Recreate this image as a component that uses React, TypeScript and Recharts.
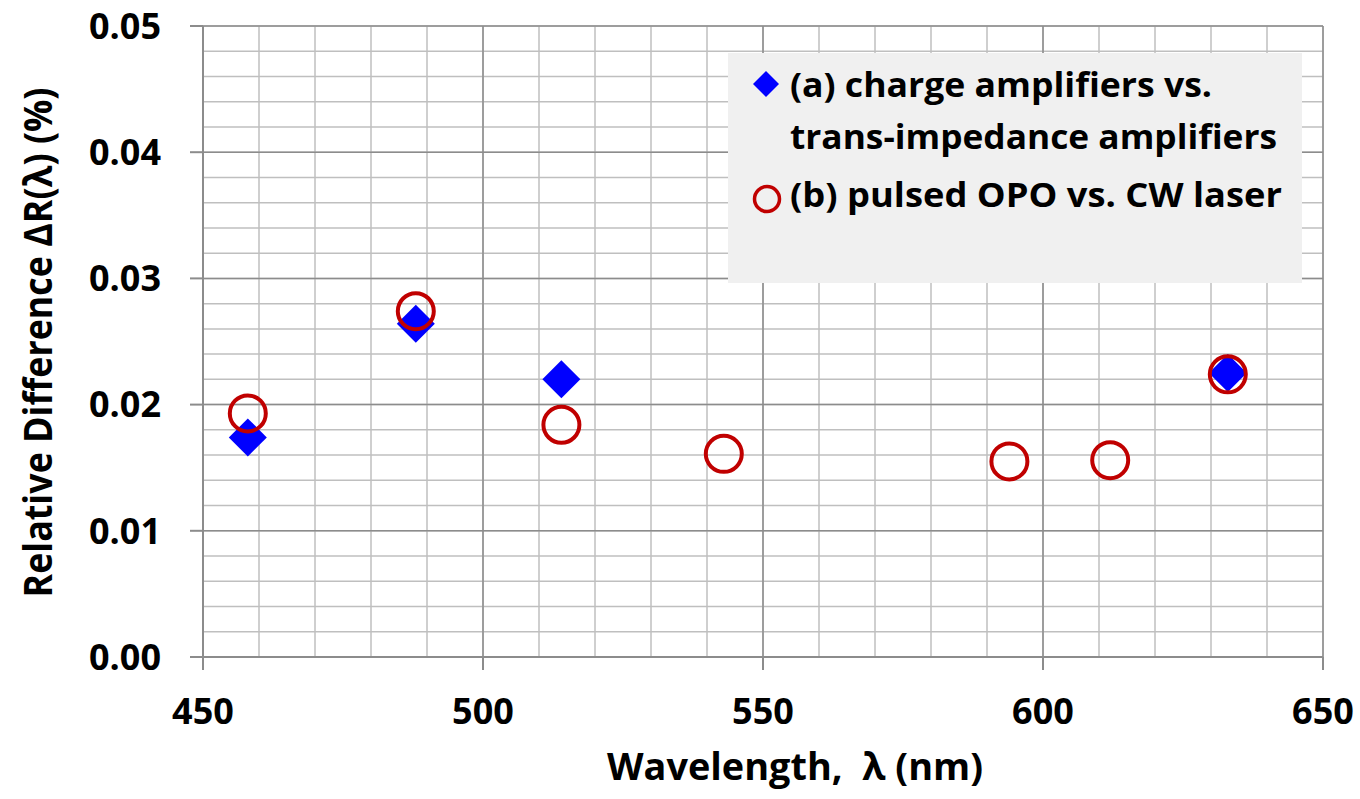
import { ScatterChart, Scatter, XAxis, YAxis, CartesianGrid } from "recharts";

// wavelength (nm) and relative difference (%)
const seriesAX = [458, 488, 514, 633];
const seriesAY = [0.0174, 0.0264, 0.022, 0.0225];
const seriesBX = [458, 488, 514, 543, 594, 612, 633];
const seriesBY = [0.0193, 0.0274, 0.0184, 0.0161, 0.0155, 0.0156, 0.0224];

const xTicks = [450, 500, 550, 600, 650];
const yTicks = [0, 0.01, 0.02, 0.03, 0.04, 0.05];
const xMinor = [450, 460, 470, 480, 490, 500, 510, 520, 530, 540, 550, 560, 570, 580, 590, 600, 610, 620, 630, 640, 650];
const yMinor = [0, 0.002, 0.004, 0.006, 0.008, 0.01, 0.012, 0.014, 0.016, 0.018, 0.02, 0.022, 0.024, 0.026, 0.028, 0.03, 0.032, 0.034, 0.036, 0.038, 0.04, 0.042, 0.044, 0.046, 0.048, 0.05];

const seriesNames = ["(a) charge amplifiers vs.", "trans-impedance amplifiers", "(b) pulsed OPO vs. CW laser"];

const dataA = seriesAX.map((x, i) => ({ x, y: seriesAY[i] }));
const dataB = seriesBX.map((x, i) => ({ x, y: seriesBY[i] }));

const X_DOMAIN = [450, 650];
const Y_DOMAIN = [0, 0.05];

const FONT = "'Open Sans', 'DejaVu Sans', sans-serif";
const AXIS = "#8C8C8C";
const BLUE = "#0000FF";
const RED = "#C00000";

const Diamond = (props: any) => {
  const { cx, cy } = props;
  const h = 19;
  return (
    <polygon
      points={`${cx},${cy - h} ${cx + h},${cy} ${cx},${cy + h} ${cx - h},${cy}`}
      fill={BLUE}
    />
  );
};

const Ring = (props: any) => {
  const { cx, cy } = props;
  return <circle cx={cx} cy={cy} r={18} fill="none" stroke={RED} strokeWidth={4} />;
};

// minor grid positions through the axis scales
const minorVertical = (p: any) => {
  const s = p.xAxis && p.xAxis.scale;
  if (typeof s === "function") return xMinor.map((v) => s(v));
  const o = p.offset;
  return xMinor.map((v) => o.left + ((v - X_DOMAIN[0]) / (X_DOMAIN[1] - X_DOMAIN[0])) * o.width);
};
const minorHorizontal = (p: any) => {
  const s = p.yAxis && p.yAxis.scale;
  if (typeof s === "function") return yMinor.map((v) => s(v));
  const o = p.offset;
  return yMinor.map((v) => o.top + o.height - ((v - Y_DOMAIN[0]) / (Y_DOMAIN[1] - Y_DOMAIN[0])) * o.height);
};

const YTitle = (props: any) => {
  const vb = props.viewBox;
  const x = 52;
  const y = vb.y + vb.height / 2 + 1;
  return (
    <text
      x={x}
      y={y}
      transform={`rotate(-90 ${x} ${y})`}
      textAnchor="middle"
      fontFamily={FONT}
      fontWeight={700}
      fontSize={40}
      textLength={510}
      lengthAdjust="spacingAndGlyphs"
      fill="#000"
    >
      Relative Difference ΔR(λ) (%)
    </text>
  );
};

const XTitle = (props: any) => {
  const vb = props.viewBox;
  return (
    <text
      x={vb.x + vb.width / 2 + 32}
      y={vb.y + 123}
      textAnchor="middle"
      fontFamily={FONT}
      fontWeight={700}
      fontSize={38}
      textLength={376}
      lengthAdjust="spacingAndGlyphs"
      fill="#000"
      style={{ whiteSpace: "pre" }}
    >
      {"Wavelength,  λ (nm)"}
    </text>
  );
};

function LegendBox() {
  const txt = {
    fontFamily: FONT,
    fontWeight: 700,
    fontSize: 34,
    fill: "#000",
    lengthAdjust: "spacingAndGlyphs",
  } as any;
  return (
    <div
      style={{
        position: "absolute",
        left: 728,
        top: 53,
        width: 574,
        height: 230,
        background: "#F0F0F0",
      }}
    >
      <svg width={574} height={230}>
        <polygon points="38,18 51,31 38,44 25,31" fill={BLUE} />
        <text x={62} y={44} textLength={422} {...txt}>
          {seriesNames[0]}
        </text>
        <text x={62} y={96} textLength={487} {...txt}>
          {seriesNames[1]}
        </text>
        <circle cx={39} cy={146} r={12.5} fill="none" stroke={RED} strokeWidth={3.5} />
        <text x={62} y={154} textLength={492} {...txt}>
          {seriesNames[2]}
        </text>
      </svg>
    </div>
  );
}

export default function App() {
  const tickStyle = { fontSize: 36, fontWeight: 700, fill: "#000", fontFamily: FONT };
  return (
    <div style={{ position: "absolute", left: 0, top: 0, width: 1360, height: 799, background: "#fff" }}>
      <ScatterChart width={1360} height={799} margin={{ top: 26, right: 37, left: 0, bottom: 0 }}>
        <CartesianGrid
          stroke="#BFBFBF"
          strokeWidth={1.5}
          verticalCoordinatesGenerator={minorVertical}
          horizontalCoordinatesGenerator={minorHorizontal}
        />
        <CartesianGrid stroke={AXIS} strokeWidth={1.5} />
        <XAxis
          type="number"
          dataKey="x"
          domain={X_DOMAIN}
          ticks={xTicks}
          height={142}
          tickSize={13}
          tickMargin={28}
          axisLine={{ stroke: AXIS, strokeWidth: 2 }}
          tickLine={{ stroke: AXIS, strokeWidth: 2 }}
          tick={tickStyle}
          interval={0}
          label={{ content: XTitle }}
        />
        <YAxis
          type="number"
          dataKey="y"
          domain={Y_DOMAIN}
          ticks={yTicks}
          width={203}
          tickSize={13}
          tickMargin={29}
          axisLine={{ stroke: AXIS, strokeWidth: 2 }}
          tickLine={{ stroke: AXIS, strokeWidth: 2 }}
          tick={tickStyle}
          interval={0}
          tickFormatter={(v: number) => v.toFixed(2)}
          label={{ content: YTitle }}
        />
        <Scatter data={dataA} shape={Diamond} isAnimationActive={false} />
        <Scatter data={dataB} shape={Ring} isAnimationActive={false} />
      </ScatterChart>
      <LegendBox />
    </div>
  );
}
